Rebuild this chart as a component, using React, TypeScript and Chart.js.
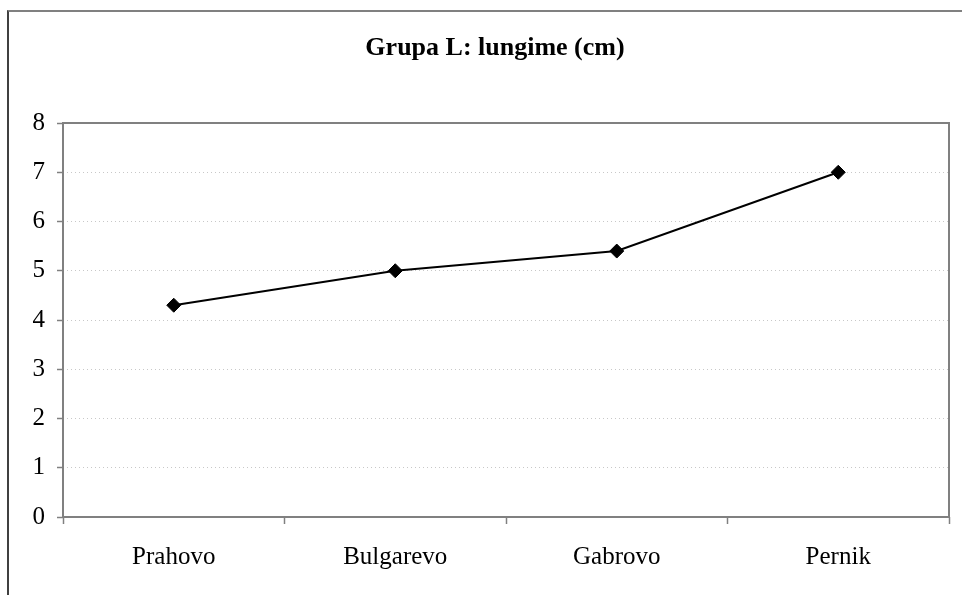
import React, { useEffect, useRef } from "react";
import { Chart, registerables } from "chart.js";

Chart.register(...registerables);

const categories = ["Prahovo", "Bulgarevo", "Gabrovo", "Pernik"];
const lengthValues = [4.3, 5.0, 5.4, 7.0];
const yTicks = [0, 1, 2, 3, 4, 5, 6, 7, 8];
const titleText = "Grupa L: lungime (cm)";

const W = 962;
const H = 595;

const framePlugin = {
  id: "frame",
  afterDraw(chart: any) {
    const { ctx, chartArea } = chart;
    ctx.save();
    ctx.strokeStyle = "#808080";
    ctx.lineWidth = 2;
    ctx.strokeRect(chartArea.left, chartArea.top, chartArea.right - chartArea.left, chartArea.bottom - chartArea.top);
    ctx.fillStyle = "#000000";
    ctx.font = "bold 26px 'Liberation Serif'";
    ctx.textAlign = "center";
    ctx.textBaseline = "middle";
    ctx.fillText(titleText, 495, 48);
    ctx.restore();
  },
};

export default function App() {
  const ref = useRef<HTMLCanvasElement | null>(null);
  useEffect(() => {
    if (!ref.current) return;
    const chart = new Chart(ref.current, {
      type: "line",
      data: {
        labels: categories,
        datasets: [
          {
            data: lengthValues,
            borderColor: "#000000",
            backgroundColor: "#000000",
            borderWidth: 2,
            pointStyle: "rectRot",
            pointRadius: 7,
            pointBorderWidth: 1,
            pointBackgroundColor: "#000000",
            pointBorderColor: "#000000",
            tension: 0,
          },
        ],
      },
      options: {
        responsive: false,
        animation: false,
        layout: { padding: { left: 0, right: 13, top: 123, bottom: 0 } },
        plugins: {
          legend: { display: false },
          tooltip: { enabled: false },
          title: { display: false },
        },
        scales: {
          x: {
            type: "category",
            offset: true,
            afterFit: (s: any) => {
              s.height = H - 517;
            },
            grid: {
              offset: true,
              drawOnChartArea: false,
              drawTicks: true,
              tickLength: 7,
              tickColor: "#808080",
              tickWidth: 1.5,
            },
            border: { display: false },
            ticks: {
              color: "#000000",
              padding: 18,
              maxRotation: 0,
              font: { family: "Liberation Serif", size: 25 },
            },
          },
          y: {
            min: 0,
            max: 8,
            afterFit: (s: any) => {
              s.width = 63;
            },
            afterBuildTicks: (s: any) => {
              s.ticks = yTicks.map((v) => ({ value: v }));
            },
            grid: {
              color: "#c8c8c8",
              lineWidth: 1,
              drawTicks: true,
              tickLength: 6,
              tickColor: "#808080",
              tickWidth: 1.5,
              tickBorderDash: [],
            },
            border: { display: false, dash: [1, 3] },
            ticks: {
              color: "#000000",
              padding: 12,
              font: { family: "Liberation Serif", size: 25 },
            },
          },
        },
      },
      plugins: [framePlugin],
    });
    return () => chart.destroy();
  }, []);

  return (
    <div style={{ position: "fixed", left: 0, top: 0, width: W, height: H, background: "#ffffff" }}>
      <div
        style={{
          position: "absolute",
          left: 7,
          top: 10,
          width: W + 20,
          height: H + 20,
          borderTop: "2px solid #808080",
          borderLeft: "2px solid #404040",
          boxSizing: "border-box",
          pointerEvents: "none",
        }}
      />
      <canvas ref={ref} width={W} height={H} style={{ position: "absolute", left: 0, top: 0 }} />
    </div>
  );
}
